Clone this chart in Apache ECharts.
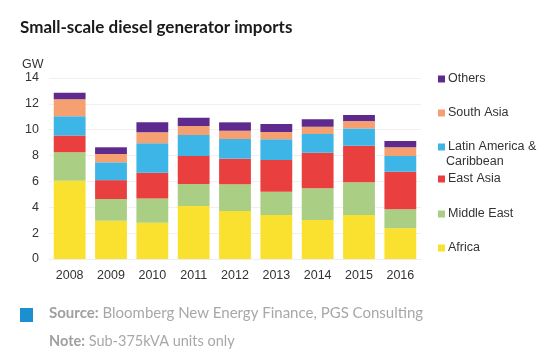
<!DOCTYPE html>
<html>
<head>
<meta charset="utf-8">
<script src="https://cdn.jsdelivr.net/npm/echarts@6/dist/echarts.min.js"></script>
<style>html,body{margin:0;padding:0;background:#fff;}#c{width:552px;height:359px;}</style>
</head>
<body>
<div id="c"></div>
<script>
const years = ['2008','2009','2010','2011','2012','2013','2014','2015','2016'];
const africa = [6.05, 2.96, 2.80, 4.10, 3.71, 3.40, 3.02, 3.40, 2.37];
const middleEast = [2.20, 1.68, 1.88, 1.70, 2.07, 1.80, 2.45, 2.53, 1.47];
const eastAsia = [1.30, 1.46, 2.00, 2.17, 1.98, 2.46, 2.75, 2.83, 2.91];
const latinAmerica = [1.50, 1.38, 2.27, 1.62, 1.52, 1.60, 1.45, 1.34, 1.22];
const southAsia = [1.30, 0.64, 0.85, 0.70, 0.64, 0.56, 0.56, 0.57, 0.67];
const others = [0.50, 0.52, 0.77, 0.64, 0.65, 0.62, 0.57, 0.47, 0.49];
const yTicks = [0, 2, 4, 6, 8, 10, 12, 14];

const seriesDefs = [
  {name: 'Africa', data: africa, color: '#FBE12F'},
  {name: 'Middle East', data: middleEast, color: '#AACE84'},
  {name: 'East Asia', data: eastAsia, color: '#E9403F'},
  {name: 'Latin America & Caribbean', data: latinAmerica, color: '#3DB5E6'},
  {name: 'South Asia', data: southAsia, color: '#F6A071'},
  {name: 'Others', data: others, color: '#5E2A8E'}
];
// legend item vertical centres
const legendCentres = {
  'Others': 79, 'South Asia': 113, 'Latin America & Caribbean': 147,
  'East Asia': 179, 'Middle East': 214, 'Africa': 248
};

const chart = echarts.init(document.getElementById('c'), null, {renderer: 'canvas'});
const labelFont = '"Liberation Sans", Arial, sans-serif';
const legends = seriesDefs.map(s => {
  const multi = s.name.indexOf('&') >= 0;
  return {
    data: [s.name],
    left: 433, top: legendCentres[s.name] - 7.5 - 5,
    orient: 'vertical',
    itemWidth: 7, itemHeight: 7,
    icon: 'rect',
    selectedMode: false,
    formatter: multi ? () => 'Latin America &' : undefined,
    textStyle: {color: '#333', fontSize: 12.5, fontFamily: labelFont, lineHeight: 15, padding: [0, 0, 0, -2]}
  };
});

chart.setOption({
  animation: false,
  backgroundColor: '#fff',
  grid: {left: 49, right: 131, top: 78, bottom: 100, containLabel: false},
  legend: legends,
  xAxis: {
    type: 'category', data: years,
    axisLine: {show: true, lineStyle: {color: '#eee'}},
    axisTick: {show: false},
    axisLabel: {color: '#333', fontSize: 12.5, margin: 10, fontFamily: labelFont}
  },
  yAxis: {
    type: 'value', min: yTicks[0], max: yTicks[yTicks.length - 1], interval: 2,
    axisLine: {show: false}, axisTick: {show: false},
    splitLine: {lineStyle: {color: '#f0f0f0'}},
    axisLabel: {color: '#333', fontSize: 12.5, margin: 10, fontFamily: labelFont}
  },
  series: seriesDefs.map(s => ({
    name: s.name, type: 'bar', stack: 'total', data: s.data,
    barWidth: '77%',
    itemStyle: {color: s.color},
    emphasis: {disabled: true}
  })),
  graphic: [
    {type: 'text', left: 20, top: 19, style: {text: 'Small-scale diesel generator imports', font: 'bold 17px Lato, sans-serif', fill: '#1a1a1a'}},
    {type: 'text', left: 22, top: 58, style: {text: 'GW', font: '12.5px "Liberation Sans", Arial, sans-serif', fill: '#333'}},
    {type: 'text', left: 446, top: 155, style: {text: 'Caribbean', font: '12.5px "Liberation Sans", Arial, sans-serif', fill: '#333'}},
    {type: 'rect', shape: {x: 20, y: 308, width: 13, height: 14}, style: {fill: '#1B8FD0'}},
    {type: 'text', left: 49, top: 306, style: {
      text: '{b|Source:} Bloomberg New Energy Finance, PGS Consulting',
      font: '15px Lato, sans-serif', fill: '#a8a8a8',
      rich: {b: {fontWeight: 'bold', fontSize: 15, fontFamily: 'Lato, sans-serif', fill: '#a0a0a0'}}
    }},
    {type: 'text', left: 49, top: 334, style: {
      text: '{b|Note:} Sub-375kVA units only',
      font: '14.5px Lato, sans-serif', fill: '#a8a8a8',
      rich: {b: {fontWeight: 'bold', fontSize: 14.5, fontFamily: 'Lato, sans-serif', fill: '#a0a0a0'}}
    }}
  ]
});
</script>
</body>
</html>
